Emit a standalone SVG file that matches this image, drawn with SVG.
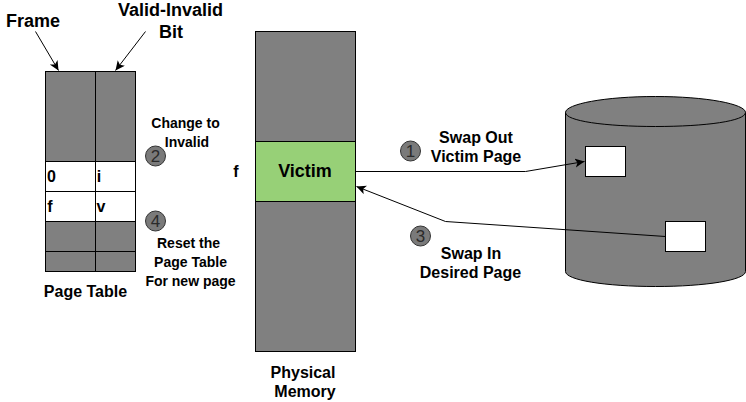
<svg xmlns="http://www.w3.org/2000/svg" width="746" height="402" viewBox="0 0 746 402">
<defs>
<marker id="arrow" markerUnits="userSpaceOnUse" markerWidth="11" markerHeight="10" refX="9.5" refY="4.5" orient="auto"><path d="M0 0L9.500 4.500L0 9L2.400 4.500Z" fill="#000"/></marker>
</defs>
<style>
text{font-family:"Liberation Sans",Arial,sans-serif;font-weight:bold;fill:#000;text-anchor:middle}
.s{font-size:14px}
.m{font-size:16px}
.b{font-size:18px}
.g{fill:#808080;stroke:#000;stroke-width:1}
.w{fill:#fff;stroke:#000;stroke-width:1}
.c{fill:#7a7a7a;stroke:#333;stroke-width:1}
.n{font-size:17px;font-weight:normal;fill:#2a2a2a}
.l{fill:none;stroke:#000;stroke-width:1;marker-end:url(#arrow)}
</style>
<rect width="746" height="402" fill="#fff"/>
<g id="page-table">
<rect class="g" x="45.500" y="71.500" width="50" height="90"/>
<rect class="g" x="95.500" y="71.500" width="40" height="90"/>
<rect class="w" x="45.500" y="161.500" width="50" height="30"/>
<rect class="w" x="95.500" y="161.500" width="40" height="30"/>
<rect class="w" x="45.500" y="191.500" width="50" height="30"/>
<rect class="w" x="95.500" y="191.500" width="40" height="30"/>
<rect class="g" x="45.500" y="221.500" width="50" height="30"/>
<rect class="g" x="95.500" y="221.500" width="40" height="30"/>
<rect class="g" x="45.500" y="251.500" width="50" height="20"/>
<rect class="g" x="95.500" y="251.500" width="40" height="20"/>
<text class="m" x="51.500" y="182">0</text>
<text class="m" x="99" y="182">i</text>
<text class="m" x="50" y="212">f</text>
<text class="m" x="101" y="212">v</text>
<text class="m" x="85.500" y="297">Page Table</text>
</g>
<g id="physical-memory">
<rect class="g" x="255.500" y="31.500" width="100" height="110"/>
<rect x="255.500" y="141.500" width="100" height="60" fill="#97d077" stroke="#000"/>
<rect class="g" x="255.500" y="201.500" width="100" height="150"/>
<text class="b" x="305" y="177">Victim</text>
<text class="m" x="236" y="177">f</text>
<text class="m" x="303" y="378">Physical</text>
<text class="m" x="305" y="397">Memory</text>
</g>
<g id="disk">
<path class="g" d="M565.500 112.500C565.500 104 605 96.500 655.500 96.500S745.500 104 745.500 112.500V271.500C745.500 280 706 286.500 655.500 286.500S565.500 280 565.500 271.500Z"/>
<path d="M565.500 112.500C565.500 121 605 126.500 655.500 126.500S745.500 121 745.500 112.500" fill="none" stroke="#000"/>
<rect class="w" x="585.500" y="146.500" width="40" height="30"/>
<rect class="w" x="665.500" y="221.500" width="40" height="30"/>
</g>
<g id="labels">
<text class="b" x="33" y="27">Frame</text>
<text class="b" x="170.500" y="16">Valid-Invalid</text>
<text class="b" x="171" y="38">Bit</text>
<text class="s" x="185.500" y="128">Change to</text>
<text class="s" x="187" y="147">Invalid</text>
<text class="s" x="188.500" y="248">Reset the</text>
<text class="s" x="190.500" y="267">Page Table</text>
<text class="s" x="190.500" y="286">For new page</text>
<text class="m" x="476" y="143">Swap Out</text>
<text class="m" x="476" y="162">Victim Page</text>
<text class="m" x="471" y="259">Swap In</text>
<text class="m" x="470.500" y="278">Desired Page</text>
</g>
<g id="step-1"><circle class="c" cx="410.500" cy="151" r="10"/><text class="n" x="410.500" y="157">1</text></g>
<g id="step-2"><circle class="c" cx="155.500" cy="156" r="10"/><text class="n" x="155.500" y="162">2</text></g>
<g id="step-3"><circle class="c" cx="420.500" cy="236" r="10"/><text class="n" x="420.500" y="242">3</text></g>
<g id="step-4"><circle class="c" cx="155.500" cy="221" r="10"/><text class="n" x="155.500" y="227">4</text></g>
<g id="connectors">
<path class="l" d="M35.500 31.500L58.500 70.500"/>
<path class="l" d="M145.500 31.500L115.500 70.500"/>
<path class="l" d="M355.500 171.500H525.500L584.500 161.500"/>
<path class="l" d="M665.500 236.500L445.500 221.500L356.500 186.500"/>
</g>
</svg>
